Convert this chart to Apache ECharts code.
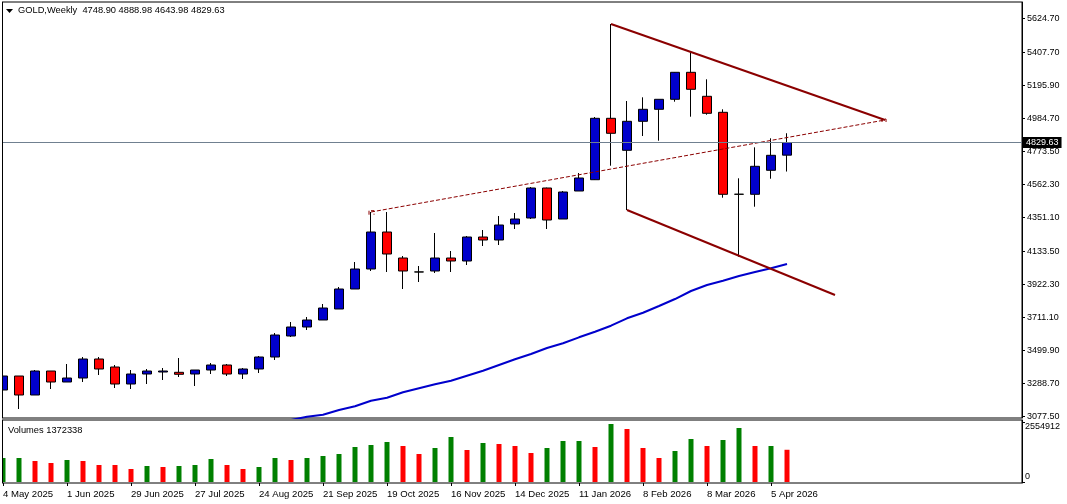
<!DOCTYPE html>
<html>
<head>
<meta charset="utf-8">
<style>
  html, body { margin: 0; padding: 0; background: #fff; }
  #main { width: 1067px; height: 504px; }
</style>
<script src="https://cdn.jsdelivr.net/npm/echarts@6/dist/echarts.min.js"></script>
</head>
<body>
<div id="main"></div>
<script type="text/javascript">
  // weekly bars, index 0 = 4 May 2025, one bar per week
  var opens = [3245.8, 3335.4, 3213.8, 3367.4, 3297, 3322.6, 3444.2, 3393, 3284.2, 3348.2,
    3361, 3359.1, 3348.2, 3373.8, 3405.8, 3348.2, 3380.2, 3457, 3591.4, 3649,
    3693.8, 3764.2, 3892.2, 4020.2, 4257, 4090.6, 4001, 4007.4, 4090.6, 4071.4,
    4225, 4205.8, 4308.2, 4346.6, 4538.6, 4340.2, 4519.4, 4591.7, 4984.7, 4779.9,
    4965.5, 5042.3, 5106.3, 5279.1, 5125.5, 5023.1, 4498.3, 4498.3, 4651.9, 4748.9];
  var closes = [3335.4, 3213.8, 3367.4, 3297, 3322.6, 3444.2, 3380.2, 3284.2, 3348.2, 3367.4,
    3367.4, 3346.3, 3373.8, 3405.8, 3348.2, 3380.2, 3457, 3597.8, 3649, 3693.8,
    3770.6, 3892.2, 4020.2, 4257, 4116.2, 4007.4, 4001.6, 4090.6, 4071.4, 4225,
    4205.8, 4301.8, 4340.2, 4538.6, 4333.8, 4513, 4602.6, 4984.7, 4888.7, 4965.5,
    5042.3, 5106.3, 5279.1, 5170.3, 5016.7, 4498.3, 4499, 4677.5, 4747.9, 4829.63];
  var lows = [3239.4, 3124.2, 3213.8, 3252.2, 3297, 3297, 3341.8, 3258.6, 3252.2, 3284.2,
    3309.8, 3329, 3271.4, 3348.2, 3335.4, 3316.2, 3354.6, 3437.8, 3585, 3629.8,
    3693.8, 3764.2, 3892.2, 4007.4, 4001, 3892.2, 3937, 3994.6, 4001, 4045.8,
    4167.4, 4173.8, 4276.2, 4340.2, 4276.2, 4340.2, 4519.4, 4589.8, 4681.3, 4397.8,
    4871.4, 4841.3, 5090.9, 4995, 5007.7, 4476.5, 4098.9, 4418.9, 4598.1, 4643.98];
  var highs = [3444.2, 3335.4, 3373.8, 3367.4, 3412.2, 3457, 3457, 3405.8, 3373.8, 3380.2,
    3386.6, 3450.6, 3373.8, 3418.6, 3412.2, 3386.6, 3463.4, 3610.6, 3681, 3713,
    3796.2, 3905, 4065, 4385, 4385, 4103.4, 4039.4, 4250.6, 4135.4, 4231.4,
    4269.8, 4359.4, 4378.6, 4545, 4541, 4519.4, 4634.6, 4993, 5588.2, 5095.4,
    5119, 5106.3, 5281, 5410.9, 5234.3, 5042.3, 4600.7, 4799, 4856.7, 4888.98];

  var volumes = [1022000, 1022000, 894200, 809000, 936800, 894200, 723900, 723900, 553600, 681300,
    638700, 681300, 723900, 979400, 723900, 553600, 638700, 1022000, 936800, 1022000,
    1107100, 1192300, 1490400, 1575500, 1703300, 1533000, 1192300, 1447800, 1916200, 1362600,
    1660700, 1618100, 1533000, 1234900, 1447800, 1745900, 1745900, 1490400, 2469800, 2256800,
    1447800, 1022000, 1320000, 1831000, 1533000, 1788400, 2299400, 1533000, 1533000, 1372338];
  // 1 = green volume bar, 0 = red
  var volumeUp = [1, 1, 0, 0, 1, 0, 0, 0, 0, 1,
    0, 1, 1, 1, 0, 0, 1, 1, 0, 1,
    1, 1, 1, 1, 1, 0, 0, 1, 1, 0,
    1, 0, 0, 0, 1, 1, 1, 0, 1, 0,
    0, 0, 1, 1, 0, 1, 1, 0, 1, 0];

  // moving average, starts at bar 18
  var maStart = 18;
  var maValues = [3053.8, 3074.9, 3087.7, 3117.8, 3141.5, 3177.3, 3196.5, 3231.1, 3256.7, 3282.3,
    3305.3, 3337.3, 3369.3, 3405.8, 3442.3, 3476.2, 3514.6, 3544.7, 3583, 3618.9,
    3657.3, 3704.7, 3740.5, 3783.4, 3828, 3879.4, 3917.8, 3945.3, 3975.4, 4001,
    4024.7, 4052.2];

  // hand drawn trend lines, [bar, price]
  var upperLine = [[38, 5588.2], [55.125, 4973.8]];
  var lowerLine = [[39, 4397.8], [52, 3853.8]];
  var middleLine = [[23, 4385], [55.125, 4973.8]];
  var middleStartNotch = [[22.875, 4367.7], [22.875, 4393.3], [23.19, 4393.3], [23.19, 4367.7]];
  var middleEndNotch = [[54.94, 4961], [54.94, 4980.2], [55.19, 4980.2], [55.19, 4955]];

  var priceTicks = [5624.7, 5407.7, 5195.9, 4984.7, 4773.5, 4562.3, 4351.1, 4133.5, 3922.3, 3711.1, 3499.9, 3288.7, 3077.5];
  var lastPrice = 4829.63;
  var dateBars = [0, 4, 8, 12, 16, 20, 24, 28, 32, 36, 40, 44, 48];
  var dateLabels = ['4 May 2025', '1 Jun 2025', '29 Jun 2025', '27 Jul 2025', '24 Aug 2025', '21 Sep 2025', '19 Oct 2025',
    '16 Nov 2025', '14 Dec 2025', '11 Jan 2026', '8 Feb 2026', '8 Mar 2026', '5 Apr 2026'];
  var volumeTicks = [0, 2554912];
  var volumeLabelAt = [212910, 2342000];
  var volumeLabels = ['0', '2554912'];

  var FONT = 'Liberation Sans';
  var BLUE = '#0000cc', RED = '#ff0000', GREEN = '#008000', MAROON = '#8b0000';

  var candleData = opens.map(function(o, i) {
    return [i, o, closes[i], lows[i], highs[i]];
  });
  var volumeData = volumes.map(function(v, i) {
    return { value: [i, v], itemStyle: { color: volumeUp[i] ? GREEN : RED } };
  });
  var maData = maValues.map(function(v, i) {
    return [maStart + i, v];
  });

  function drawing(data, width, dashed) {
    return {
      type: 'line',
      data: data,
      symbol: 'none',
      silent: true,
      animation: false,
      z: 4,
      lineStyle: { color: MAROON, width: width, type: dashed ? [4, 2] : 'solid' }
    };
  }

  var chart = echarts.init(document.getElementById('main'));
  chart.setOption({
    animation: false,
    backgroundColor: '#fff',
    grid: [
      { left: 2, top: 2, width: 1020, height: 416, show: true, borderColor: '#000', borderWidth: 1, backgroundColor: '#fff' },
      { left: 2, top: 420, width: 1020, height: 63, show: true, borderColor: '#000', borderWidth: 1, backgroundColor: '#fff' }
    ],
    xAxis: [
      { type: 'value', gridIndex: 0, min: -0.0625, max: 63.6875, show: false },
      {
        type: 'value', gridIndex: 1, min: -0.0625, max: 63.6875,
        splitLine: { show: false },
        axisLine: { show: false, onZero: false },
        axisTick: { show: true, length: 3, customValues: dateBars, lineStyle: { color: '#000' } },
        axisLabel: {
          customValues: dateBars,
          align: 'left',
          margin: 6,
          color: '#000',
          fontFamily: FONT,
          fontSize: 9.6,
          formatter: function(value) { return dateLabels[dateBars.indexOf(value)]; }
        }
      }
    ],
    yAxis: [
      {
        type: 'value', gridIndex: 0, position: 'right', min: 3066.6, max: 5729,
        splitLine: { show: false },
        axisLine: { show: true, onZero: false, lineStyle: { color: '#000' } },
        axisTick: { show: true, length: 3, customValues: priceTicks, lineStyle: { color: '#000' } },
        axisLabel: {
          customValues: priceTicks,
          margin: 5,
          color: '#000',
          fontFamily: FONT,
          fontSize: 9,
          formatter: function(value) { return value.toFixed(2); }
        }
      },
      {
        type: 'value', gridIndex: 1, position: 'right', min: -42582, max: 2640084,
        splitLine: { show: false },
        axisLine: { show: true, onZero: false, lineStyle: { color: '#000' } },
        axisTick: { show: true, length: 3, customValues: volumeTicks, lineStyle: { color: '#000' } },
        axisLabel: {
          customValues: volumeLabelAt,
          margin: 3,
          color: '#000',
          fontFamily: FONT,
          fontSize: 9,
          formatter: function(value) { return volumeLabels[volumeLabelAt.indexOf(value)]; }
        }
      }
    ],
    title: [
      { text: 'GOLD,Weekly  4748.90 4888.98 4643.98 4829.63', left: 18, top: 6, padding: 0, textStyle: { color: '#000', fontFamily: FONT, fontSize: 9.3, fontWeight: 'normal' } },
      { text: 'Volumes 1372338', left: 8, top: 426, padding: 0, textStyle: { color: '#000', fontFamily: FONT, fontSize: 9.3, fontWeight: 'normal' } }
    ],
    graphic: [
      { type: 'polygon', shape: { points: [[6, 9], [13, 9], [9.5, 13]] }, style: { fill: '#000' }, silent: true, z: 10 },
      // the chart cuts the first bar at its left frame
      { type: 'rect', shape: { x: 0, y: 0, width: 2, height: 504 }, style: { fill: '#fff' }, silent: true, z: 10 },
      { type: 'line', shape: { x1: 2.5, y1: 2, x2: 2.5, y2: 418 }, style: { stroke: '#000', lineWidth: 1 }, silent: true, z: 10 },
      { type: 'line', shape: { x1: 2.5, y1: 420, x2: 2.5, y2: 483 }, style: { stroke: '#000', lineWidth: 1 }, silent: true, z: 10 }
    ],
    series: [
      {
        type: 'candlestick',
        xAxisIndex: 0,
        yAxisIndex: 0,
        data: candleData,
        barWidth: 10,
        z: 3,
        itemStyle: {
          color: BLUE, color0: RED,
          borderColor: '#000', borderColor0: '#000', borderColorDoji: '#000',
          borderWidth: 1
        },
        markLine: {
          silent: true,
          symbol: 'none',
          animation: false,
          lineStyle: { color: '#708090', width: 1, type: 'solid' },
          label: {
            position: 'end',
            distance: 1,
            formatter: lastPrice.toFixed(2),
            color: '#fff',
            backgroundColor: '#000',
            padding: [1, 3, 1, 3],
            fontFamily: FONT,
            fontSize: 9
          },
          data: [{ yAxis: lastPrice }]
        }
      },
      {
        type: 'line',
        xAxisIndex: 0,
        yAxisIndex: 0,
        data: maData,
        symbol: 'none',
        z: 4,
        lineStyle: { color: BLUE, width: 2 }
      },
      drawing(upperLine, 2),
      drawing(lowerLine, 2),
      drawing(middleLine, 1, true),
      drawing(middleStartNotch, 1, true),
      drawing(middleEndNotch, 1, true),
      {
        type: 'bar',
        xAxisIndex: 1,
        yAxisIndex: 1,
        data: volumeData,
        barWidth: 5
      }
    ]
  });
</script>
</body>
</html>
